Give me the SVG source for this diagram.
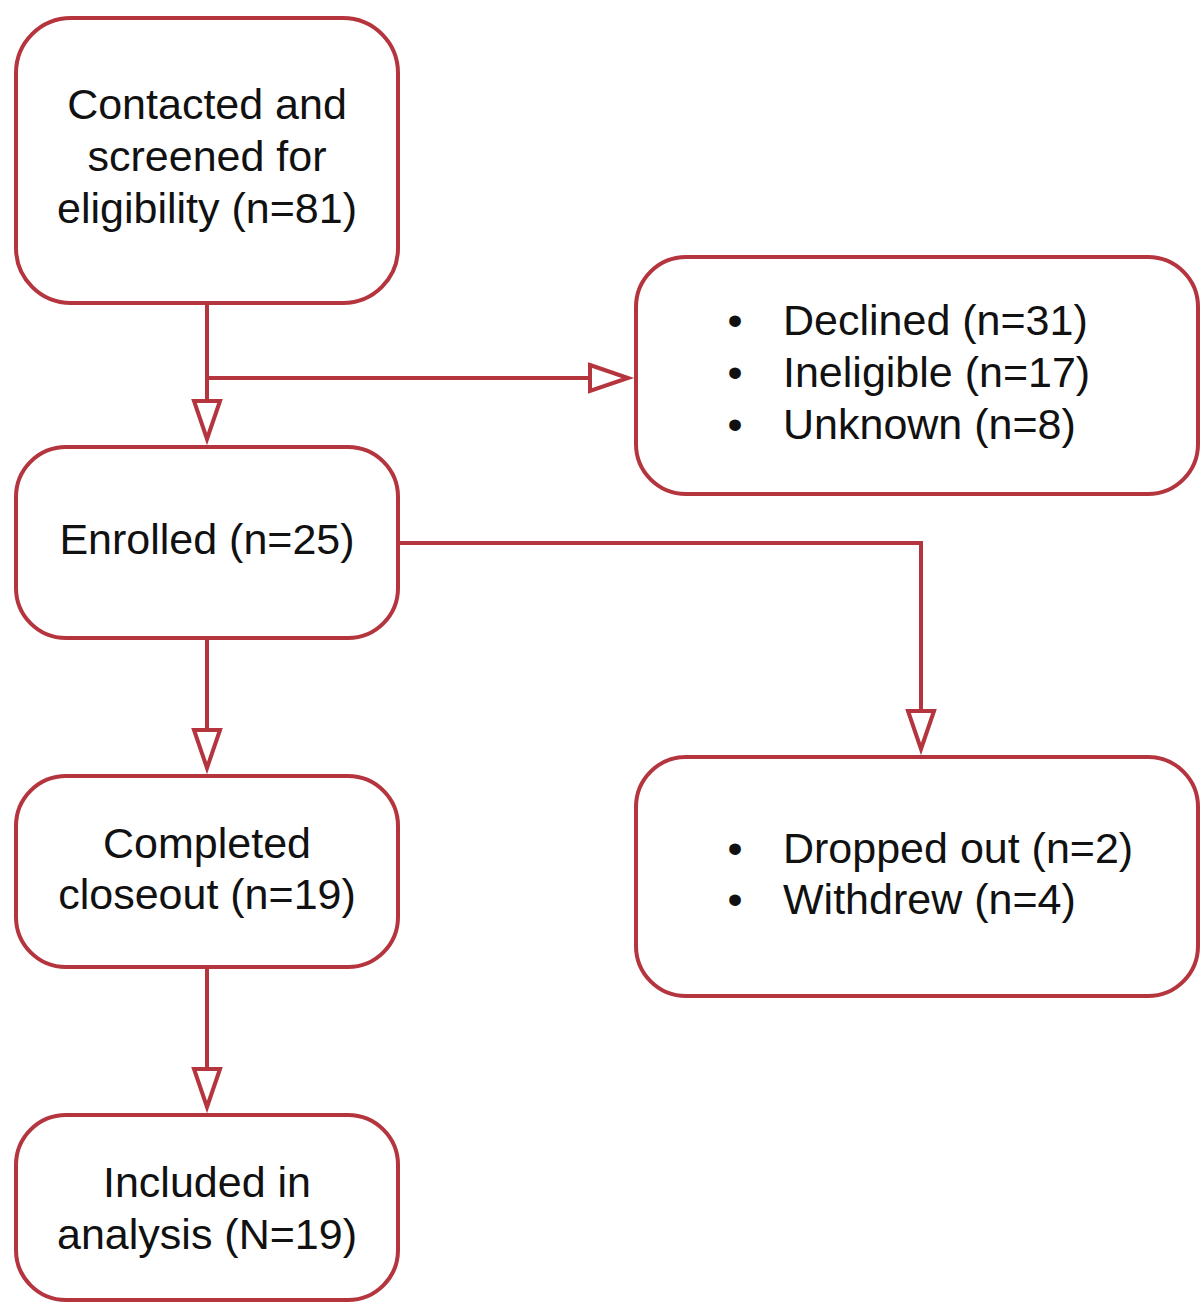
<svg xmlns="http://www.w3.org/2000/svg" width="1200" height="1302" viewBox="0 0 1200 1302">
<style>
.box{fill:#fff;stroke:#b5353f;stroke-width:4}
.t{font-family:"Liberation Sans",Arial,sans-serif;font-size:43px;fill:#111}
.c{text-anchor:middle}
.line{fill:none;stroke:#b5353f;stroke-width:4}
</style>
<defs>
<marker id="arr" markerUnits="userSpaceOnUse" markerWidth="60" markerHeight="40" refX="40" refY="15" orient="auto" overflow="visible">
<path d="M2,2 L40,15 L2,28 Z" fill="#fff" stroke="#b5353f" stroke-width="4" stroke-linejoin="miter"/>
</marker>
</defs>
<rect width="1200" height="1302" fill="#fff"/>
<g id="connectors">
<line class="line" x1="207" y1="303" x2="207" y2="439" marker-end="url(#arr)"/>
<line class="line" x1="207" y1="378" x2="628" y2="378" marker-end="url(#arr)"/>
<path class="line" d="M398,543 H921 V749" marker-end="url(#arr)"/>
<line class="line" x1="207" y1="638" x2="207" y2="768" marker-end="url(#arr)"/>
<line class="line" x1="207" y1="967" x2="207" y2="1107" marker-end="url(#arr)"/>
</g>
<g id="screened">
<rect class="box" x="16" y="18" width="382" height="285" rx="55"/>
<text class="t c" x="207" y="119">Contacted and</text>
<text class="t c" x="207" y="171">screened for</text>
<text class="t c" x="207" y="223">eligibility (n=81)</text>
</g>
<g id="excluded">
<rect class="box" x="636" y="257" width="562" height="237" rx="50"/>
<text class="t c" x="735" y="335">•</text>
<text class="t" x="783" y="335">Declined (n=31)</text>
<text class="t c" x="735" y="387">•</text>
<text class="t" x="783" y="387">Ineligible (n=17)</text>
<text class="t c" x="735" y="439">•</text>
<text class="t" x="783" y="439">Unknown (n=8)</text>
</g>
<g id="enrolled">
<rect class="box" x="16" y="447" width="382" height="191" rx="50"/>
<text class="t c" x="207" y="554">Enrolled (n=25)</text>
</g>
<g id="completed">
<rect class="box" x="16" y="776" width="382" height="191" rx="50"/>
<text class="t c" x="207" y="858">Completed</text>
<text class="t c" x="207" y="909">closeout (n=19)</text>
</g>
<g id="included">
<rect class="box" x="16" y="1115" width="382" height="185" rx="50"/>
<text class="t c" x="207" y="1197">Included in</text>
<text class="t c" x="207" y="1249">analysis (N=19)</text>
</g>
<g id="dropped">
<rect class="box" x="636" y="757" width="562" height="239" rx="50"/>
<text class="t c" x="735" y="863">•</text>
<text class="t" x="783" y="863">Dropped out (n=2)</text>
<text class="t c" x="735" y="914">•</text>
<text class="t" x="783" y="914">Withdrew (n=4)</text>
</g>
</svg>
